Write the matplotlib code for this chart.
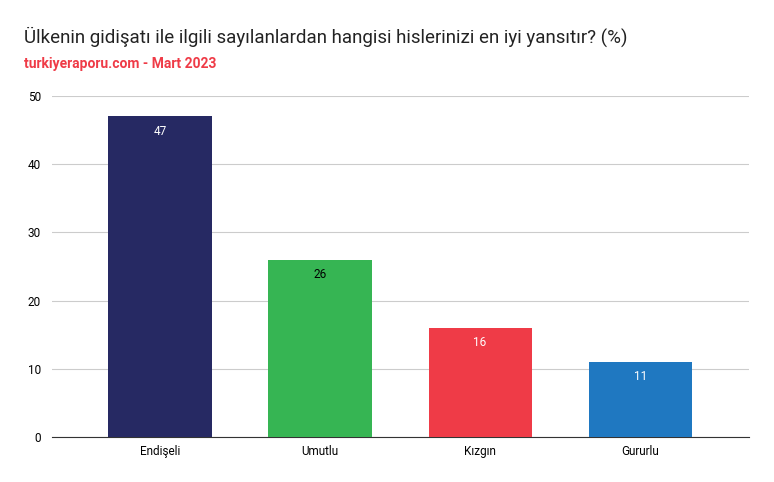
import matplotlib
matplotlib.use("Agg")
import matplotlib.pyplot as plt

categories = ["Endişeli", "Umutlu", "Kızgın", "Gururlu"]
values = [47, 26, 16, 11]
colors = ["#262963", "#36b553", "#ef3b47", "#1f78c1"]
label_colors = ["white", "black", "white", "white"]
yticks = [0, 10, 20, 30, 40, 50]

plt.rcParams["font.family"] = "Roboto"
fig = plt.figure(figsize=(7.74, 4.82), dpi=100)
ax = fig.add_axes([52/774, 1-437/482, 697/774, 341/482])
x = range(len(categories))
bars = ax.bar(x, values, width=0.645, color=colors, zorder=3)
for xi, v, lc in zip(x, values, label_colors):
    ax.text(xi, v - 1.2, str(v), ha="center", va="top", color=lc, fontsize=8.5, zorder=4)
ax.set_xlim(-0.675, 3.68)
ax.set_ylim(0, 50)
ax.set_yticks(yticks)
ax.set_xticks(list(x))
ax.set_xticklabels(categories, fontsize=8.5)
ax.tick_params(axis="y", labelsize=8.5, length=0, pad=8)
ax.tick_params(axis="x", length=0, pad=6)
ax.grid(axis="y", color="#cccccc", linewidth=0.8, zorder=0)
for s in ["top", "right", "left"]:
    ax.spines[s].set_visible(False)
ax.spines["bottom"].set_color("#333333")
fig.text(24/774, 1-37/482, "Ülkenin gidişatı ile ilgili sayılanlardan hangisi hislerinizi en iyi yansıtır? (%)",
         fontsize=13.5, va="center", ha="left", color="#222222")
fig.text(24/774, 1-64/482, "turkiyeraporu.com - Mart 2023", fontsize=10, fontweight="bold",
         color="#ef3b47", va="center", ha="left")
fig.savefig("out.png", dpi=100)
